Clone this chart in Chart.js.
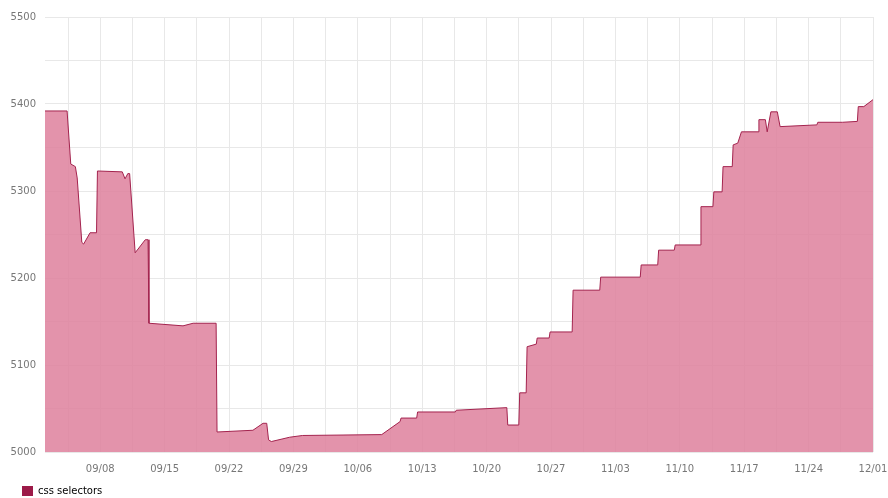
<!DOCTYPE html>
<html>
<head>
<meta charset="utf-8">
<script src="https://cdn.jsdelivr.net/npm/chart.js@4"></script>
<style>
  html, body { margin: 0; padding: 0; background: #fff; }
  #wrap { width: 888px; height: 498px; }
</style>
</head>
<body>
<div id="wrap"><canvas id="selChart" width="888" height="498"></canvas></div>
<script>
// ---- data (x = days since 09/02, y = count) ----
const seriesName = 'css selectors';

const days = [
  0, 2.4, 2.8, 3.3, 3.5, 4.0, 4.2, 4.9, 5.6, 5.7, 8.4, 8.7, 9.0, 9.2, 9.8, 10.9, 11.2, 11.3,
  15.0, 16.1, 18.6, 18.7, 22.6, 23.7, 24.1, 24.3, 24.6, 26.6, 28.0, 36.6, 38.6, 38.7, 40.4,
  40.5, 44.6, 44.7, 50.2, 50.3, 51.5, 51.6, 52.3, 52.4, 53.4, 53.5, 54.8, 54.9, 57.3, 57.4,
  60.3, 60.4, 64.7, 64.8, 66.6, 66.7, 68.4, 68.5, 71.2, 71.3, 72.6, 72.7, 73.6, 73.7, 74.7,
  74.8, 75.3, 75.7, 77.5, 77.6, 78.3, 78.5, 78.9, 79.6, 79.9, 83.9, 84.0, 86.7, 88.3, 88.4,
  89.0, 90
];
const values = [
  5392, 5392, 5331, 5328, 5315, 5241, 5239, 5252, 5252, 5323, 5322, 5314, 5320, 5320, 5229, 5244, 5244, 5148,
  5145, 5148, 5148, 5023, 5025, 5033, 5033, 5014, 5012, 5017, 5019, 5020, 5035, 5039, 5039,
  5046, 5046, 5048, 5051, 5031, 5031, 5068, 5068, 5121, 5124, 5131, 5131, 5138, 5138, 5186,
  5186, 5201, 5201, 5215, 5215, 5232, 5232, 5238, 5238, 5282, 5282, 5299, 5299, 5328, 5328,
  5353, 5355, 5368, 5368, 5382, 5382, 5368, 5391, 5391, 5374, 5376, 5379, 5379, 5380, 5397,
  5397, 5405
];

// x tick labels (weekly) and the half-week grid lines between them
const xTickDays   = [6, 13, 20, 27, 34, 41, 48, 55, 62, 69, 76, 83, 90];
const xTickLabels = ['09/08','09/15','09/22','09/29','10/06','10/13','10/20','10/27','11/03','11/10','11/17','11/24','12/01'];
const xGridDays   = [2.5, 6, 9.5, 13, 16.5, 20, 23.5, 27, 30.5, 34, 37.5, 41, 44.5, 48, 51.5, 55,
                     58.5, 62, 65.5, 69, 72.5, 76, 79.5, 83, 86.5, 90];

const yMin = 5000, yMax = 5500, yStep = 50;

const points = days.map(function(d, i) { return { x: d, y: values[i] }; });

// nudge the legend right and down so it sits under the y labels, like the original
const legendShift = {
  id: 'legendShift',
  afterLayout: function(chart) {
    chart.legend.left += 18;
    chart.legend.right += 18;
    chart.legend.top += 8;
    chart.legend.bottom += 8;
  }
};

const ctx = document.getElementById('selChart').getContext('2d');

new Chart(ctx, {
  type: 'line',
  data: {
    datasets: [{
      label: seriesName,
      data: points,
      borderColor: '#a3234e',
      borderWidth: 1,
      backgroundColor: 'rgba(222,128,156,0.85)',
      fill: 'start',
      pointRadius: 0,
      tension: 0
    }]
  },
  plugins: [legendShift],
  options: {
    responsive: false,
    animation: false,
    layout: { padding: { left: 0, right: 15, top: 17, bottom: 0 } },
    plugins: {
      tooltip: { enabled: false },
      legend: {
        position: 'bottom',
        align: 'start',
        labels: {
          boxWidth: 11,
          boxHeight: 10,
          color: '#555',
          font: { family: 'DejaVu Sans', size: 10 },
          padding: 4,
          generateLabels: function(chart) {
            return [{ text: seriesName, fillStyle: '#9c1a48', strokeStyle: '#9c1a48', lineWidth: 0, datasetIndex: 0 }];
          }
        }
      }
    },
    scales: {
      x: {
        type: 'linear',
        min: 0,
        max: 90,
        afterBuildTicks: function(scale) {
          scale.ticks = xGridDays.map(function(v) { return { value: v }; });
        },
        afterFit: function(scale) {
          scale.paddingRight = 0;
          scale.paddingLeft = 0;
          scale.height = 22;
        },
        grid: { color: '#e8e8e8', drawTicks: false },
        border: { display: false },
        ticks: {
          autoSkip: false,
          maxRotation: 0,
          padding: 11,
          color: '#777',
          font: { family: 'DejaVu Sans', size: 10 },
          callback: function(v) {
            const i = xTickDays.indexOf(v);
            return i >= 0 ? xTickLabels[i] : '';
          }
        }
      },
      y: {
        min: yMin,
        max: yMax,
        afterFit: function(scale) { scale.width = 45; },
        grid: { color: '#e8e8e8', drawTicks: false },
        border: { display: false },
        ticks: {
          stepSize: yStep,
          padding: 9,
          color: '#777',
          font: { family: 'DejaVu Sans', size: 10 },
          callback: function(v) { return v % 100 === 0 ? String(v) : ''; }
        }
      }
    }
  }
});
</script>
</body>
</html>
